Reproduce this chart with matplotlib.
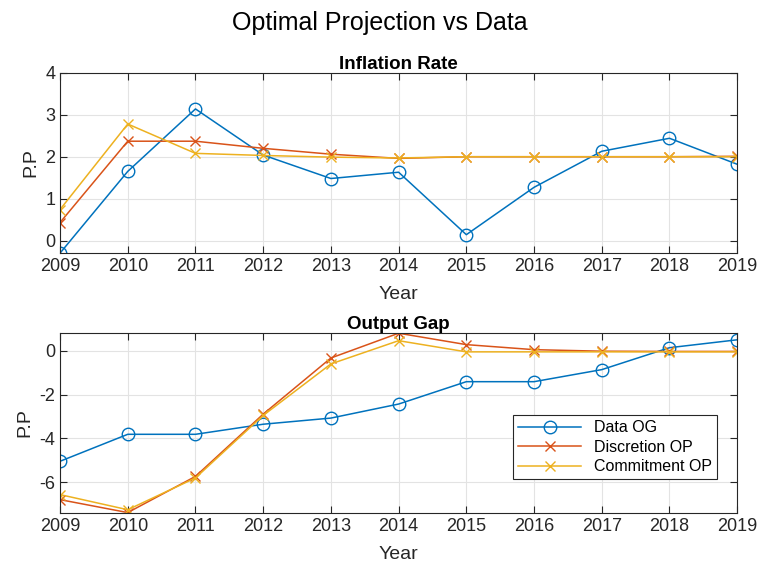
import numpy as np
import matplotlib.pyplot as plt

plt.rcParams['font.family'] = ['Liberation Sans', 'DejaVu Sans']
plt.rcParams['axes.unicode_minus'] = False

years = [2009, 2010, 2011, 2012, 2013, 2014, 2015, 2016, 2017, 2018, 2019]

# inflation rate
infl_data = [-0.3, 1.65, 3.14, 2.04, 1.48, 1.63, 0.14, 1.27, 2.13, 2.44, 1.82]
infl_disc = [0.43, 2.37, 2.37, 2.2, 2.06, 1.96, 2.0, 2.0, 2.0, 2.0, 2.01]
infl_comm = [0.74, 2.78, 2.08, 2.03, 1.99, 1.97, 2.0, 2.0, 2.0, 2.0, 2.0]

# output gap
og_data = [-5.04, -3.81, -3.81, -3.35, -3.07, -2.43, -1.41, -1.41, -0.86, 0.14, 0.5]
og_disc = [-6.79, -7.38, -5.73, -2.89, -0.33, 0.8, 0.28, 0.05, -0.02, -0.03, -0.03]
og_comm = [-6.56, -7.25, -5.8, -2.95, -0.6, 0.46, -0.05, -0.05, -0.05, -0.05, -0.05]

blue = '#0072BD'
red = '#D95319'
yellow = '#EDB120'


def style_axes(ax):
    ax.grid(True, color='#e3e3e3', linewidth=0.8)
    ax.set_axisbelow(True)
    ax.tick_params(direction='in', top=True, right=True, labelsize=13,
                   colors='#262626', length=5)
    for s in ax.spines.values():
        s.set_color('#262626')
        s.set_linewidth(0.8)
    ax.set_xlim(2009, 2019)
    ax.set_xticks(years)


fig = plt.figure(figsize=(7.6, 5.65), dpi=100)
fig.suptitle('Optimal Projection vs Data', fontsize=18, y=0.98)

ax1 = fig.add_axes([0.079, 0.552, 0.891, 0.319])
ax1.plot(years, infl_data, color=blue, marker='o', mfc='none', ms=9, lw=1.1, label='Data OG')
ax1.plot(years, infl_disc, color=red, marker='x', ms=7, lw=1.1, label='Discretion OP')
ax1.plot(years, infl_comm, color=yellow, marker='x', ms=7, lw=1.1, label='Commitment OP')
style_axes(ax1)
ax1.set_ylim(-0.3, 4)
ax1.set_yticks([0, 1, 2, 3, 4])
ax1.set_title('Inflation Rate', fontsize=13.5, fontweight='bold', pad=3)
ax1.set_xlabel('Year', fontsize=14, color='#262626', labelpad=8)
ax1.set_ylabel('P.P', fontsize=14, color='#262626')

ax2 = fig.add_axes([0.079, 0.092, 0.891, 0.319])
ax2.plot(years, og_data, color=blue, marker='o', mfc='none', ms=9, lw=1.1, label='Data OG')
ax2.plot(years, og_disc, color=red, marker='x', ms=7, lw=1.1, label='Discretion OP')
ax2.plot(years, og_comm, color=yellow, marker='x', ms=7, lw=1.1, label='Commitment OP')
style_axes(ax2)
ax2.set_ylim(-7.4, 0.82)
ax2.set_yticks([-6, -4, -2, 0])
ax2.set_title('Output Gap', fontsize=13.5, fontweight='bold', pad=3)
ax2.set_xlabel('Year', fontsize=14, color='#262626', labelpad=8)
ax2.set_ylabel('P.P', fontsize=14, color='#262626')
leg = ax2.legend(loc='lower right', bbox_to_anchor=(0.982, 0.145), fontsize=11.5,
                 fancybox=False, edgecolor='#262626', framealpha=1,
                 handlelength=4.0, borderpad=0.3, labelspacing=0.28)
leg.get_frame().set_linewidth(0.8)

fig.savefig('out.png', dpi=100)
